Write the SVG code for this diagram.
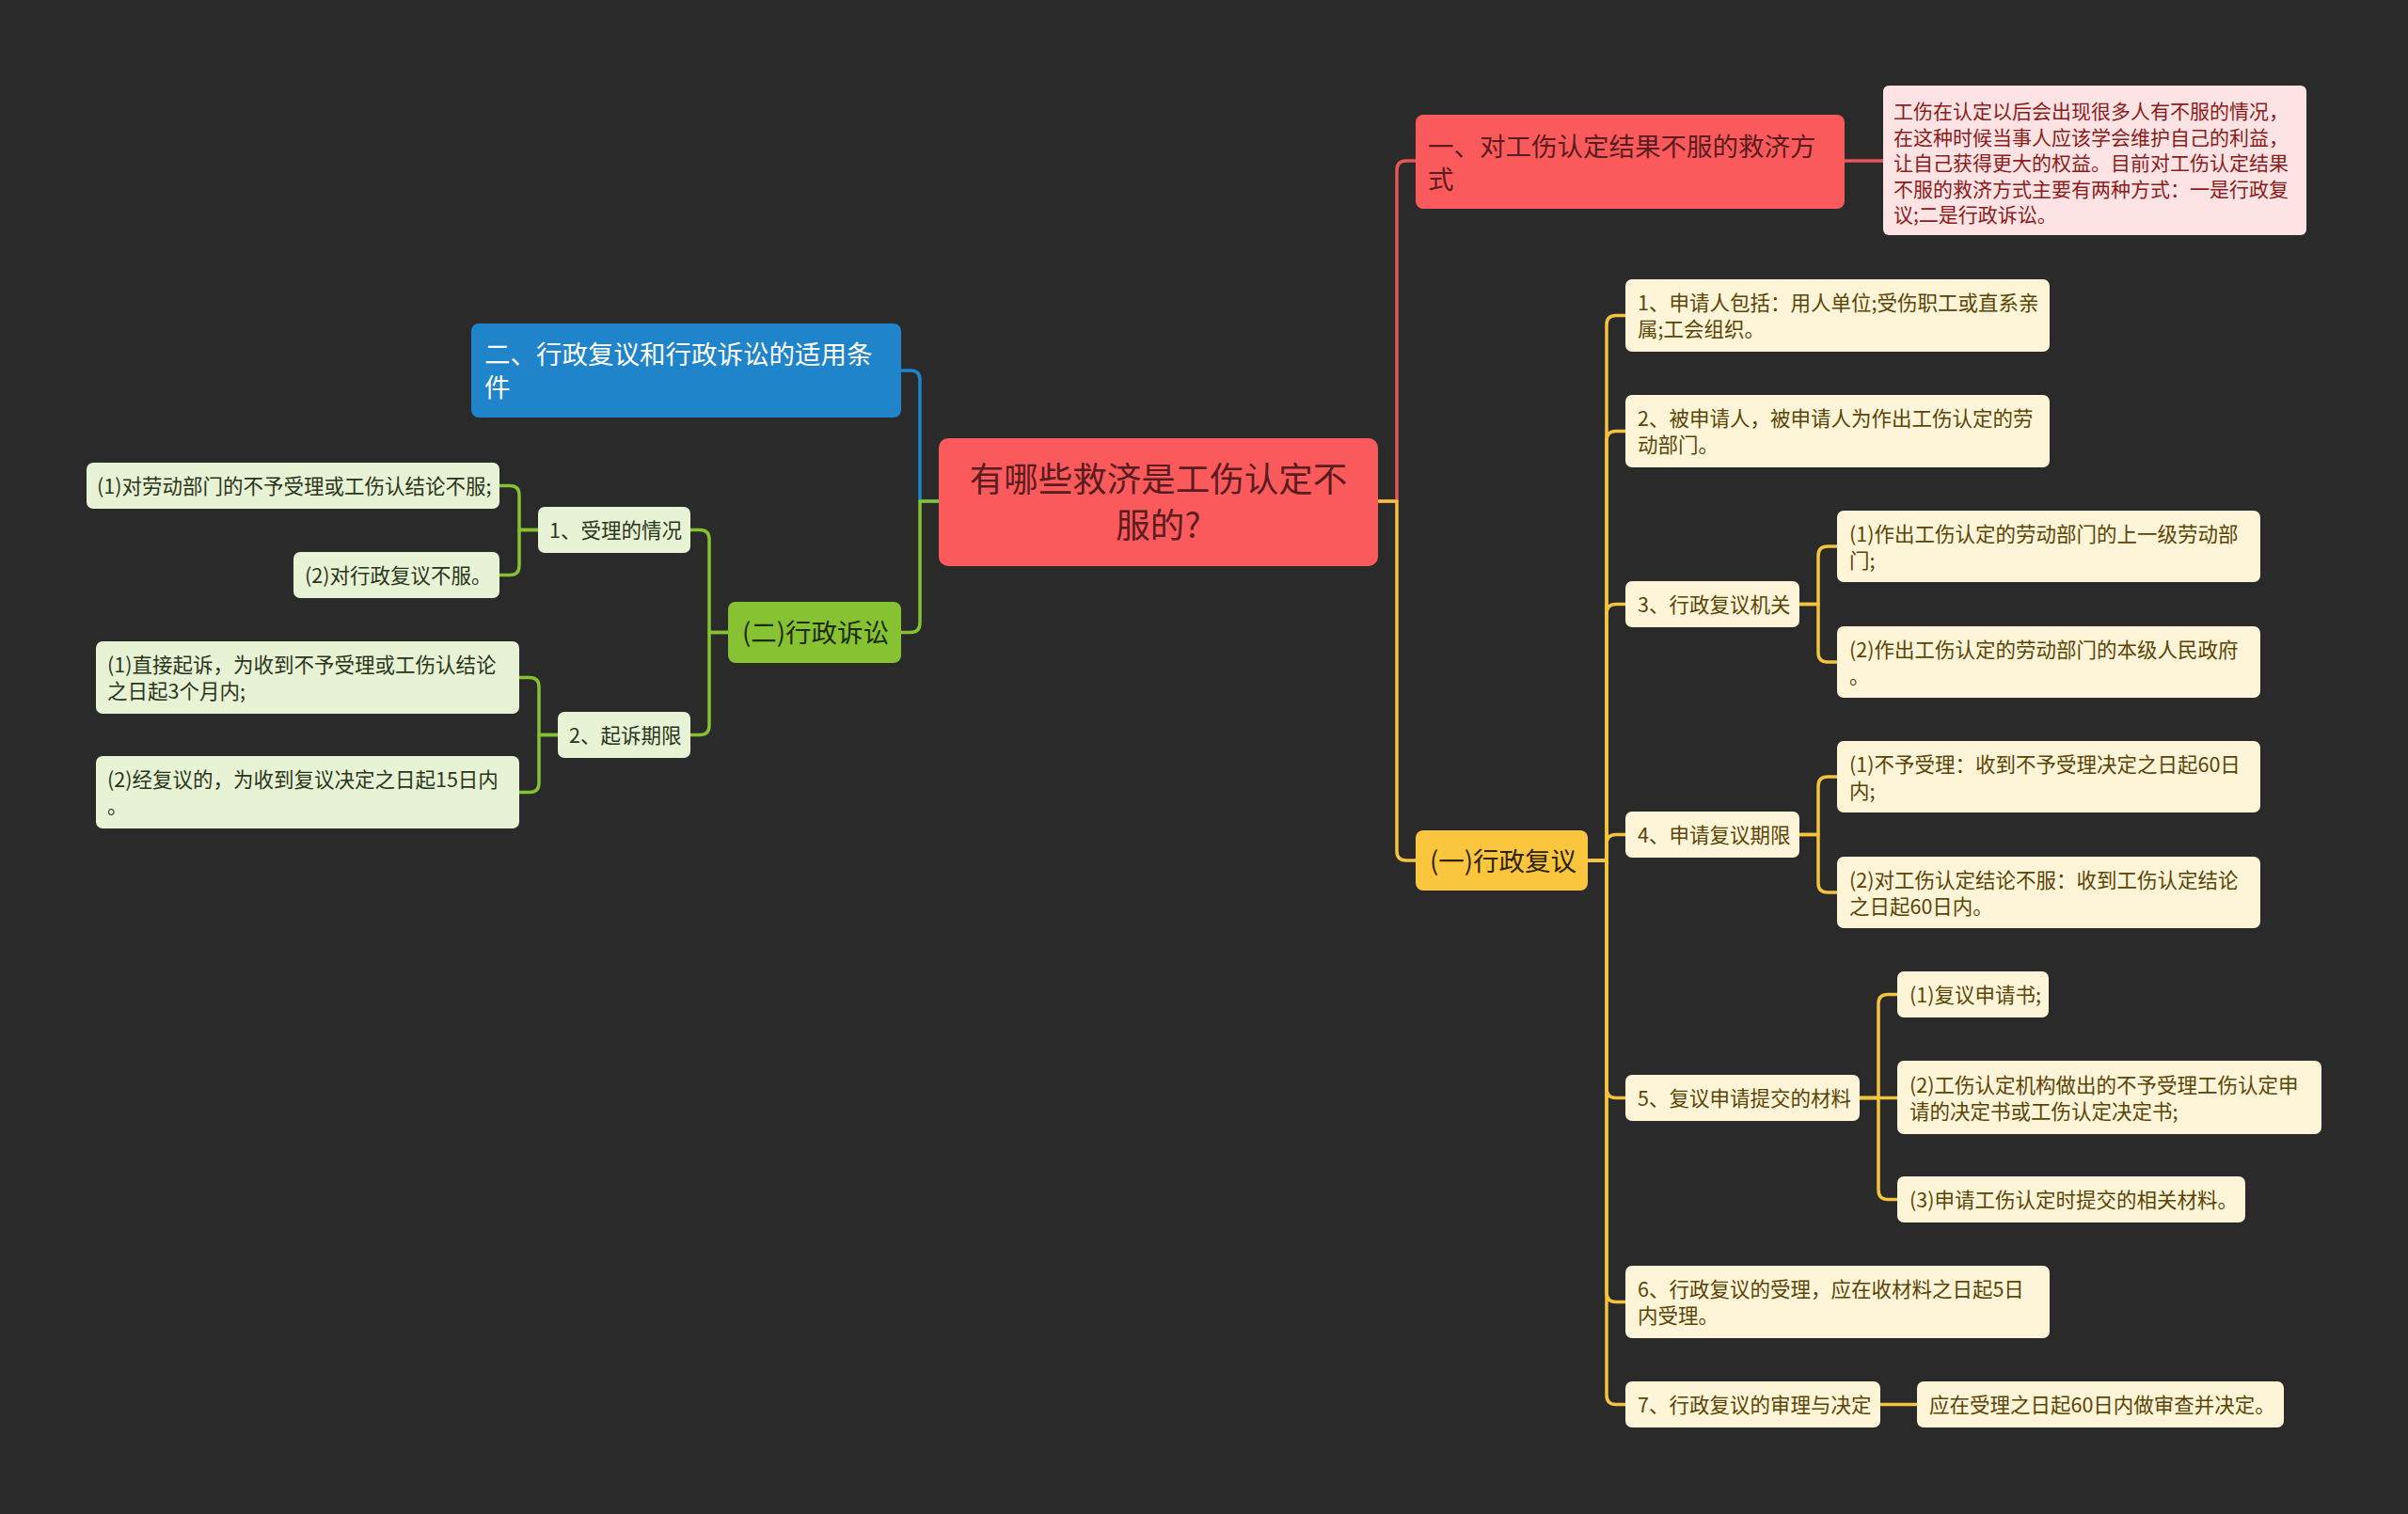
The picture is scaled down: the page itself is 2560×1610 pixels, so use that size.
<svg xmlns="http://www.w3.org/2000/svg" width="2560" height="1610" viewBox="0 0 2560 1610">
<style>
text{font-family:"Noto Sans CJK SC","Noto Sans",sans-serif;}
.c{fill:none;stroke-width:3.5;stroke-linejoin:round}
.cr{stroke:#e8565a}.cy{stroke:#f4c43e}.cb{stroke:#1f84c9}.cg{stroke:#84c232}
.red{fill:#fb5a5d}
.t0{font-size:36.5px;fill:#5a1c1e;text-anchor:middle}
.t1r{font-size:27.5px;fill:#5a1c1e}
.blue{fill:#1f84c9}
.t1b{font-size:27.5px;fill:#ffffff}
.grn{fill:#86c232}
.t1g{font-size:27.5px;fill:#1c2a08}
.yel{fill:#fac63e}
.t1y{font-size:27.5px;fill:#2e2300}
.pink{fill:#fde3e3}
.tp{font-size:21px;fill:#8a1c1c}
.lg{fill:#e8f2d5}
.tg{font-size:21.5px;fill:#2a361c}
.ly{fill:#fef5d9}
.ty{font-size:21.5px;fill:#5a4406}
</style>
<rect x="0" y="0" width="2560" height="1610" fill="#2a2a2a"/>
<g id="connectors">
<path class="c cr" d="M1465,533 H1485 V181 Q1485,171 1495,171 H1505"/>
<path class="c cr" d="M1961,171 H2002"/>
<path class="c cy" d="M1465,533 H1485 V905 Q1485,915 1495,915 H1505"/>
<path class="c cy" d="M1688,915 H1708 V345.5 Q1708,335.5 1718,335.5 H1728"/>
<path class="c cy" d="M1688,915 H1708 V468.5 Q1708,458.5 1718,458.5 H1728"/>
<path class="c cy" d="M1688,915 H1708 V652.5 Q1708,642.5 1718,642.5 H1728"/>
<path class="c cy" d="M1688,915 H1708 V897.5 Q1708,887.5 1718,887.5 H1728"/>
<path class="c cy" d="M1688,915 H1708 V1157.5 Q1708,1167.5 1718,1167.5 H1728"/>
<path class="c cy" d="M1688,915 H1708 V1374.5 Q1708,1384.5 1718,1384.5 H1728"/>
<path class="c cy" d="M1688,915 H1708 V1483.5 Q1708,1493.5 1718,1493.5 H1728"/>
<path class="c cy" d="M1913,642.5 H1933 V591 Q1933,581 1943,581 H1953"/>
<path class="c cy" d="M1913,642.5 H1933 V694 Q1933,704 1943,704 H1953"/>
<path class="c cy" d="M1913,887.5 H1933 V836 Q1933,826 1943,826 H1953"/>
<path class="c cy" d="M1913,887.5 H1933 V939 Q1933,949 1943,949 H1953"/>
<path class="c cy" d="M1977,1167.5 H1997 V1067.5 Q1997,1057.5 2007,1057.5 H2017"/>
<path class="c cy" d="M1977,1167.5 H2017"/>
<path class="c cy" d="M1977,1167.5 H1997 V1265.5 Q1997,1275.5 2007,1275.5 H2017"/>
<path class="c cy" d="M1999,1493.5 H2038"/>
<path class="c cb" d="M998,533 H978 V404 Q978,394 968,394 H958"/>
<path class="c cg" d="M998,533 H978 V662.5 Q978,672.5 968,672.5 H958"/>
<path class="c cg" d="M774,672.5 H754 V573.5 Q754,563.5 744,563.5 H734"/>
<path class="c cg" d="M774,672.5 H754 V771.5 Q754,781.5 744,781.5 H734"/>
<path class="c cg" d="M572,563.5 H552 V526.5 Q552,516.5 542,516.5 H531"/>
<path class="c cg" d="M572,563.5 H552 V601.5 Q552,611.5 542,611.5 H531"/>
<path class="c cg" d="M593,781.5 H573 V730.5 Q573,720.5 563,720.5 H552"/>
<path class="c cg" d="M593,781.5 H573 V832.5 Q573,842.5 563,842.5 H552"/>
</g>
<g id="central"><rect class="red" x="998" y="466" width="467" height="136" rx="10"/><text class="t0" x="1231.5" y="523">有哪些救济是工伤认定不</text><text class="t0" x="1231.5" y="572">服的?</text></g>
<g id="n-jiuji"><rect class="red" x="1505" y="122" width="456" height="100" rx="8"/><text class="t1r" x="1518" y="166">一、对工伤认定结果不服的救济方</text><text class="t1r" x="1518" y="201">式</text></g>
<g id="n-desc"><rect class="pink" x="2002" y="91" width="450" height="159" rx="6"/>
<text class="tp" x="2013" y="126">工伤在认定以后会出现很多人有不服的情况，</text>
<text class="tp" x="2013" y="153.5">在这种时候当事人应该学会维护自己的利益，</text>
<text class="tp" x="2013" y="181">让自己获得更大的权益。目前对工伤认定结果</text>
<text class="tp" x="2013" y="208.5">不服的救济方式主要有两种方式：一是行政复</text>
<text class="tp" x="2013" y="236">议;二是行政诉讼。</text></g>
<g id="n-tiaojian"><rect class="blue" x="501" y="344" width="457" height="100" rx="8"/><text class="t1b" x="515" y="387">二、行政复议和行政诉讼的适用条</text><text class="t1b" x="515" y="422">件</text></g>
<g id="n-susong"><rect class="grn" x="774" y="640" width="184" height="65" rx="8"/><text class="t1g" x="789" y="683">(二)行政诉讼</text></g>
<g id="n-fuyi"><rect class="yel" x="1505" y="883" width="183" height="64" rx="8"/><text class="t1y" x="1520" y="926">(一)行政复议</text></g>
<g id="g1"><rect class="lg" x="572" y="539" width="162" height="49" rx="7"/><text class="tg" x="584" y="572">1、受理的情况</text></g>
<g id="g1a"><rect class="lg" x="92" y="492" width="439" height="49" rx="7"/><text class="tg" x="103" y="525">(1)对劳动部门的不予受理或工伤认结论不服;</text></g>
<g id="g1b"><rect class="lg" x="312" y="587" width="219" height="49" rx="7"/><text class="tg" x="324" y="620">(2)对行政复议不服。</text></g>
<g id="g2"><rect class="lg" x="593" y="757" width="141" height="49" rx="7"/><text class="tg" x="605" y="790">2、起诉期限</text></g>
<g id="g2a"><rect class="lg" x="102" y="682" width="450" height="77" rx="7"/><text class="tg" x="114" y="715">(1)直接起诉，为收到不予受理或工伤认结论</text><text class="tg" x="114" y="743">之日起3个月内;</text></g>
<g id="g2b"><rect class="lg" x="102" y="804" width="450" height="77" rx="7"/><text class="tg" x="114" y="837">(2)经复议的，为收到复议决定之日起15日内</text><text class="tg" x="114" y="865">。</text></g>
<g id="y1"><rect class="ly" x="1728" y="297" width="451" height="77" rx="7"/><text class="ty" x="1741" y="330">1、申请人包括：用人单位;受伤职工或直系亲</text><text class="ty" x="1741" y="358">属;工会组织。</text></g>
<g id="y2"><rect class="ly" x="1728" y="420" width="451" height="77" rx="7"/><text class="ty" x="1741" y="453">2、被申请人，被申请人为作出工伤认定的劳</text><text class="ty" x="1741" y="481">动部门。</text></g>
<g id="y3"><rect class="ly" x="1728" y="618" width="185" height="49" rx="7"/><text class="ty" x="1741" y="651">3、行政复议机关</text></g>
<g id="y3a"><rect class="ly" x="1953" y="543" width="450" height="76" rx="7"/><text class="ty" x="1966" y="576">(1)作出工伤认定的劳动部门的上一级劳动部</text><text class="ty" x="1966" y="604">门;</text></g>
<g id="y3b"><rect class="ly" x="1953" y="666" width="450" height="76" rx="7"/><text class="ty" x="1966" y="699">(2)作出工伤认定的劳动部门的本级人民政府</text><text class="ty" x="1966" y="727">。</text></g>
<g id="y4"><rect class="ly" x="1728" y="863" width="185" height="49" rx="7"/><text class="ty" x="1741" y="896">4、申请复议期限</text></g>
<g id="y4a"><rect class="ly" x="1953" y="788" width="450" height="76" rx="7"/><text class="ty" x="1966" y="821">(1)不予受理：收到不予受理决定之日起60日</text><text class="ty" x="1966" y="849">内;</text></g>
<g id="y4b"><rect class="ly" x="1953" y="911" width="450" height="76" rx="7"/><text class="ty" x="1966" y="944">(2)对工伤认定结论不服：收到工伤认定结论</text><text class="ty" x="1966" y="972">之日起60日内。</text></g>
<g id="y5"><rect class="ly" x="1728" y="1143" width="249" height="49" rx="7"/><text class="ty" x="1741" y="1176">5、复议申请提交的材料</text></g>
<g id="y5a"><rect class="ly" x="2017" y="1033" width="161" height="49" rx="7"/><text class="ty" x="2030" y="1066">(1)复议申请书;</text></g>
<g id="y5b"><rect class="ly" x="2017" y="1128" width="451" height="78" rx="7"/><text class="ty" x="2030" y="1162">(2)工伤认定机构做出的不予受理工伤认定申</text><text class="ty" x="2030" y="1190">请的决定书或工伤认定决定书;</text></g>
<g id="y5c"><rect class="ly" x="2017" y="1251" width="370" height="49" rx="7"/><text class="ty" x="2030" y="1284">(3)申请工伤认定时提交的相关材料。</text></g>
<g id="y6"><rect class="ly" x="1728" y="1346" width="451" height="77" rx="7"/><text class="ty" x="1741" y="1379">6、行政复议的受理，应在收材料之日起5日</text><text class="ty" x="1741" y="1407">内受理。</text></g>
<g id="y7"><rect class="ly" x="1728" y="1469" width="271" height="49" rx="7"/><text class="ty" x="1741" y="1502">7、行政复议的审理与决定</text></g>
<g id="y7a"><rect class="ly" x="2038" y="1469" width="390" height="49" rx="7"/><text class="ty" x="2051" y="1502">应在受理之日起60日内做审查并决定。</text></g>
</svg>
